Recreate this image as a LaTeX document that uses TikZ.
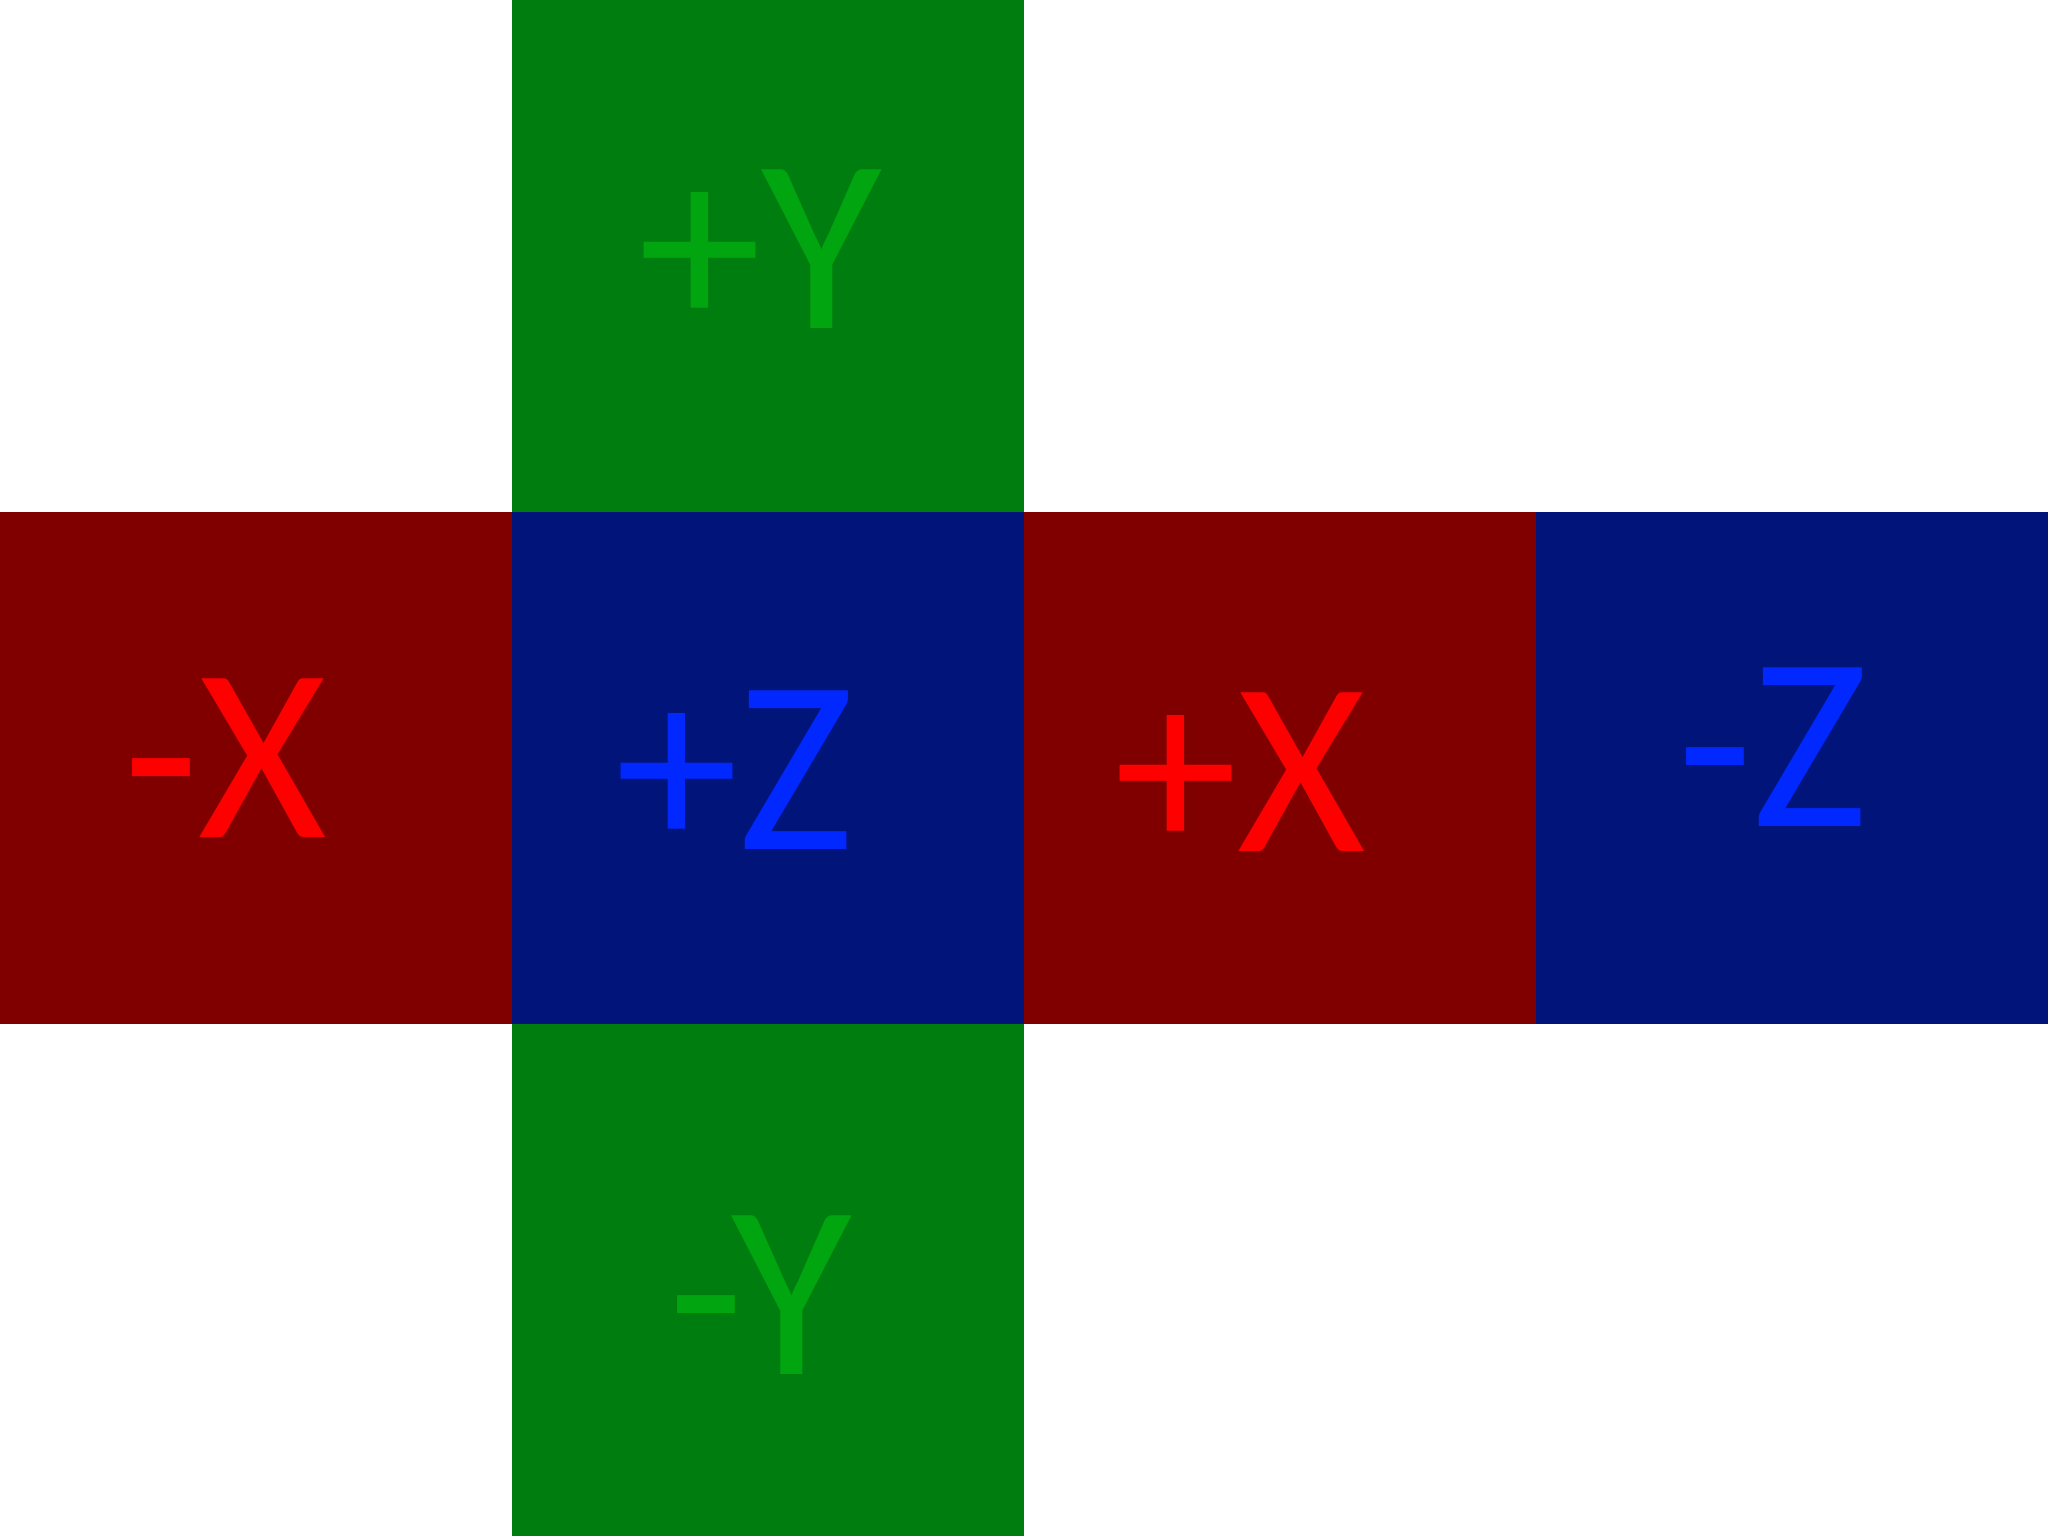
\documentclass[tikz,border=0pt]{standalone}
\usepackage{fontspec}
\setmainfont{Carlito}
\usetikzlibrary{positioning}
\definecolor{xface}{RGB}{128,0,0}
\definecolor{xtext}{RGB}{255,0,0}
\definecolor{yface}{RGB}{0,125,15}
\definecolor{ytext}{RGB}{0,165,15}
\definecolor{zface}{RGB}{0,20,122}
\definecolor{ztext}{RGB}{0,40,255}

\tikzset{
  face/.style={minimum size=4cm, inner sep=0pt, outer sep=0pt, draw=none},
  facelabel/.style={inner sep=0pt, font=\fontsize{55}{60}\selectfont}
}

\begin{document}
\begin{tikzpicture}
        \useasboundingbox (0,0) rectangle (16,12);
        % middle row
        \node[face, fill=xface] (nx) at (2,6) {};
        \node[face, fill=zface, right=0cm of nx] (pz) {};
        \node[face, fill=xface, right=0cm of pz] (px) {};
        \node[face, fill=zface, right=0cm of px] (nz) {};
        % top and bottom
        \node[face, fill=yface, above=0cm of pz] (py) {};
        \node[face, fill=yface, below=0cm of pz] (ny) {};

        \node[facelabel, text=ytext] (lpy) at ([shift={(-0.06,0.05)}]py.center) {+Y};
        \node[facelabel, text=xtext] (lnx) at ([shift={(-0.24,0.08)}]nx.center) {-X};
        \node[facelabel, text=ztext] (lpz) at ([shift={(-0.26,-0.02)}]pz.center) {+Z};
        \node[facelabel, text=xtext] (lpx) at ([shift={(-0.31,-0.03)}]px.center) {+X};
        \node[facelabel, text=ztext] (lnz) at ([shift={(-0.15,0.16)}]nz.center) {-Z};
        \node[facelabel, text=ytext] (lny) at ([shift={(-0.06,-0.12)}]ny.center) {-Y};
      \end{tikzpicture}
\end{document}
